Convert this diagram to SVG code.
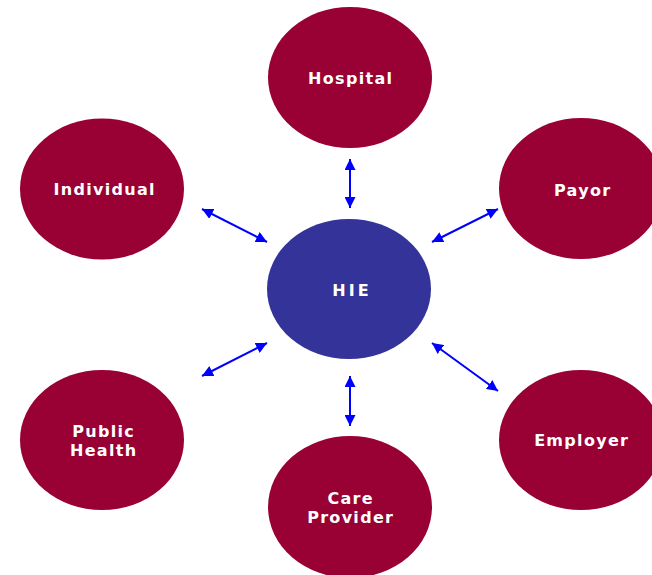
<svg xmlns="http://www.w3.org/2000/svg" width="652" height="575" viewBox="0 0 652 575">
<style>
.outer{fill:#990033}
.hub{fill:#333399}
.lbl{fill:#ffffff;font-family:"DejaVu Sans",Verdana,sans-serif;font-weight:bold;font-size:16px;letter-spacing:1.3px;text-anchor:middle}
.conn{stroke:#0000ff;stroke-width:2;fill:none;marker-start:url(#ah);marker-end:url(#ah)}
</style>
<defs>
<marker id="ah" viewBox="0 0 10 10" refX="10" refY="5" markerWidth="11" markerHeight="11" markerUnits="userSpaceOnUse" orient="auto-start-reverse">
<path d="M0,0 L10,5 L0,10 z" fill="#0000ff"/>
</marker>
</defs>
<rect width="652" height="575" fill="#ffffff"/>
<g id="connectors">
<line class="conn" x1="350" y1="159" x2="350" y2="208"/>
<line class="conn" x1="350" y1="376" x2="350" y2="426"/>
<line class="conn" x1="202" y1="209" x2="267" y2="242"/>
<line class="conn" x1="202" y1="376" x2="267" y2="343"/>
<line class="conn" x1="432" y1="242" x2="498" y2="209"/>
<line class="conn" x1="432" y1="343" x2="498" y2="391"/>
</g>
<g id="hospital">
<ellipse class="outer" cx="350" cy="77.5" rx="82" ry="70.5"/>
<text class="lbl" x="350.7" y="84">Hospital</text>
</g>
<g id="payor">
<ellipse class="outer" cx="581" cy="188.5" rx="82" ry="70.5"/>
<text class="lbl" x="582.7" y="196">Payor</text>
</g>
<g id="individual">
<ellipse class="outer" cx="102" cy="189" rx="82" ry="70.5"/>
<text class="lbl" x="104.7" y="195">Individual</text>
</g>
<g id="hie">
<ellipse class="hub" cx="349" cy="289" rx="82" ry="70"/>
<text class="lbl" x="352" y="296" style="letter-spacing:3px">HIE</text>
</g>
<g id="public-health">
<ellipse class="outer" cx="102" cy="440" rx="82" ry="70"/>
<text class="lbl" x="103.7" y="437">Public</text>
<text class="lbl" x="103.7" y="456">Health</text>
</g>
<g id="employer">
<ellipse class="outer" cx="581" cy="440" rx="82" ry="70"/>
<text class="lbl" x="581.7" y="446">Employer</text>
</g>
<g id="care-provider">
<ellipse class="outer" cx="350" cy="507" rx="82" ry="71"/>
<text class="lbl" x="350.7" y="504">Care</text>
<text class="lbl" x="350.7" y="523">Provider</text>
</g>
</svg>
